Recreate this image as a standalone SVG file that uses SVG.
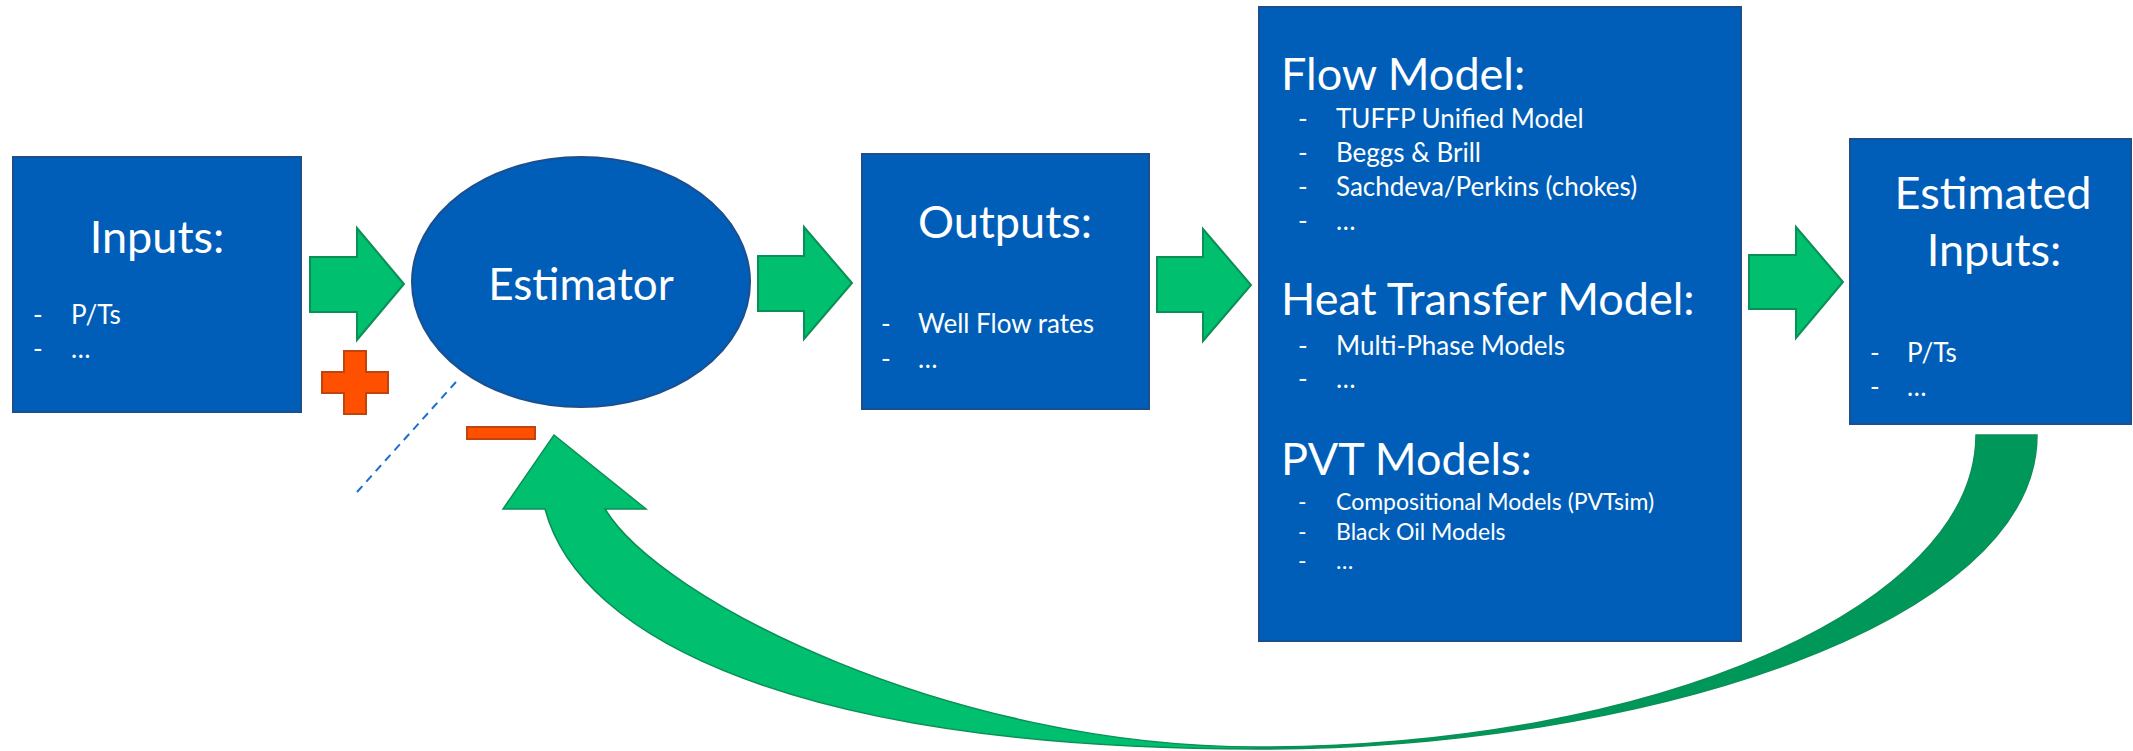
<svg xmlns="http://www.w3.org/2000/svg" width="2133" height="751" viewBox="0 0 2133 751">
  <defs>
    <style>
      .box { fill: #005EB8; stroke: #1B4F8F; stroke-width: 2; }
      .t { font-family: Lato, "Open Sans", "Liberation Sans", sans-serif; fill: #FFFFFF; }
      .title { font-size: 45px; }
      .bul { font-size: 26px; }
      .bul2 { font-size: 23px; }
      .mid { text-anchor: middle; }
      .arrow { fill: #00BF6F; stroke: #0A8F55; stroke-width: 2; stroke-linejoin: miter; }
      .sign { fill: #FF5000; stroke: #C1440E; stroke-width: 2; }
    </style>
    <linearGradient id="curveFill" gradientUnits="userSpaceOnUse" x1="500" y1="0" x2="2040" y2="0">
      <stop offset="0" stop-color="#00BF6F"/>
      <stop offset="0.49" stop-color="#00BF6F"/>
      <stop offset="0.49" stop-color="#00985A"/>
      <stop offset="1" stop-color="#00985A"/>
    </linearGradient>
  </defs>

  <rect width="2133" height="751" fill="#FFFFFF"/>

  <g id="node-inputs">
    <rect class="box" x="13" y="157" width="288" height="255"/>
    <text class="t title mid" x="157" y="253">Inputs:</text>
    <text class="t bul" x="33" y="324">-</text>
    <text class="t bul" x="71" y="324">P/Ts</text>
    <text class="t bul" x="33" y="358">-</text>
    <text class="t bul" x="71" y="358">…</text>
  </g>

  <g id="node-estimator">
    <ellipse class="box" cx="581" cy="282" rx="169" ry="125"/>
    <text class="t mid" style="font-size:44px" x="581" y="300">Estimator</text>
  </g>

  <g id="node-outputs">
    <rect class="box" x="862" y="154" width="287" height="255"/>
    <text class="t title mid" x="1005" y="238">Outputs:</text>
    <text class="t bul" x="881" y="333">-</text>
    <text class="t bul" x="918" y="333">Well Flow rates</text>
    <text class="t bul" x="881" y="368">-</text>
    <text class="t bul" x="918" y="368">…</text>
  </g>

  <g id="node-models">
    <rect class="box" x="1259" y="7" width="482" height="634"/>
    <text class="t title" x="1281" y="90">Flow Model:</text>
    <text class="t bul" x="1298" y="128">-</text>
    <text class="t bul" x="1336" y="128">TUFFP Unified Model</text>
    <text class="t bul" x="1298" y="162">-</text>
    <text class="t bul" x="1336" y="162">Beggs &amp; Brill</text>
    <text class="t bul" x="1298" y="196">-</text>
    <text class="t bul" x="1336" y="196">Sachdeva/Perkins (chokes)</text>
    <text class="t bul" x="1298" y="230">-</text>
    <text class="t bul" x="1336" y="230">…</text>
    <text class="t title" x="1281" y="315">Heat Transfer Model:</text>
    <text class="t bul" x="1298" y="355">-</text>
    <text class="t bul" x="1336" y="355">Multi-Phase Models</text>
    <text class="t bul" x="1298" y="388">-</text>
    <text class="t bul" x="1336" y="388">…</text>
    <text class="t title" x="1281" y="475">PVT Models:</text>
    <text class="t bul2" x="1298" y="510">-</text>
    <text class="t bul2" x="1336" y="510">Compositional Models (PVTsim)</text>
    <text class="t bul2" x="1298" y="540">-</text>
    <text class="t bul2" x="1336" y="540">Black Oil Models</text>
    <text class="t bul2" x="1298" y="569">-</text>
    <text class="t bul2" x="1336" y="569">…</text>
  </g>

  <g id="node-estimated-inputs">
    <rect class="box" x="1850" y="139" width="281" height="285"/>
    <text class="t title mid" x="1993" y="209">Estimated</text>
    <text class="t title mid" x="1994" y="266">Inputs:</text>
    <text class="t bul" x="1870" y="362">-</text>
    <text class="t bul" x="1907" y="362">P/Ts</text>
    <text class="t bul" x="1870" y="396">-</text>
    <text class="t bul" x="1907" y="396">…</text>
  </g>

  <g id="connectors">
    <polygon class="arrow" points="310,257 357,257 357,228 404,284 357,340 357,312 310,312"/>
    <polygon class="arrow" points="758,256 804,256 804,227 852,283 804,339 804,311 758,311"/>
    <polygon class="arrow" points="1157,257 1203,257 1203,229 1251,285 1203,341 1203,312 1157,312"/>
    <polygon class="arrow" points="1749,255 1796,255 1796,227 1843,282 1796,338 1796,309 1749,309"/>
    <path fill="url(#curveFill)" stroke="#0A8F55" stroke-width="1.5" stroke-linejoin="miter"
          d="M 2037,435 C 2037,625 1640,749 1258,749 C 800,749 580,640 545,509 L 503,509 L 554,435 L 646,509 L 605,509 C 660,600 950,747 1258,747 C 1655,747 1976,607 1976,435 Z"/>
  </g>

  <g id="feedback-signs">
    <polygon class="sign" points="344,351 366,351 366,372 388,372 388,393 366,393 366,414 344,414 344,393 322,393 322,372 344,372"/>
    <rect class="sign" x="467" y="427" width="68" height="12"/>
    <line x1="357" y1="492" x2="456" y2="382" stroke="#1A6FD0" stroke-width="2" stroke-dasharray="8 6"/>
  </g>
</svg>
